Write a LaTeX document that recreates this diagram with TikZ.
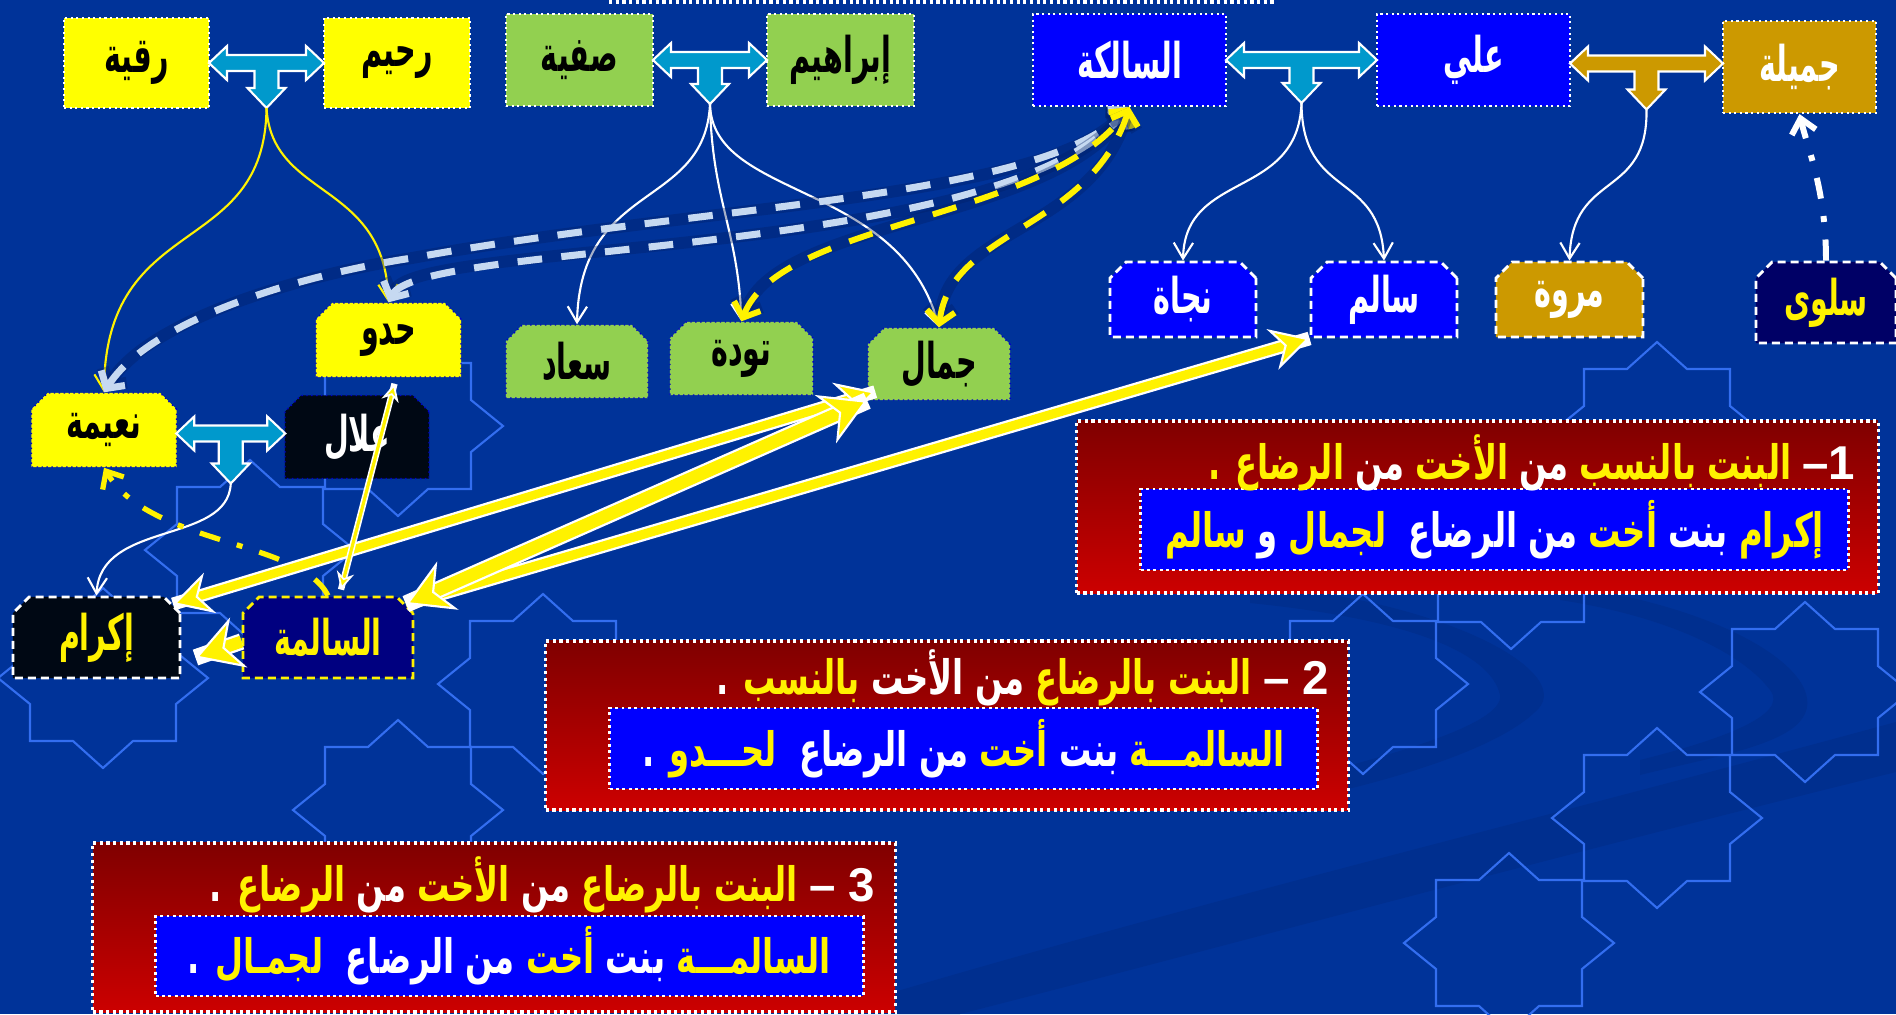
\documentclass[tikz,border=0pt]{standalone}
\usepackage{fontspec}
\usepackage{xcolor}
\usetikzlibrary{arrows.meta}
\usetikzlibrary{positioning}
\usetikzlibrary{calc}
\usetikzlibrary{shapes.misc}
\TeXXeTstate=1
\newfontfamily\arfont[Script=Arabic,FakeStretch=0.58]{DejaVu Sans}
\newfontfamily\artxfont[Script=Arabic,FakeStretch=0.68]{DejaVu Sans}
\newfontfamily\numfont{Liberation Sans}
\definecolor{bgblue}{RGB}{0,51,153}
\definecolor{bandblue}{RGB}{0,47,143}
\definecolor{starblue}{RGB}{51,110,240}
\definecolor{boxyellow}{RGB}{255,255,0}
\definecolor{boxgreen}{RGB}{146,208,80}
\definecolor{boxblue}{RGB}{0,0,255}
\definecolor{boxgold}{RGB}{204,153,0}
\definecolor{boxblack}{RGB}{0,8,20}
\definecolor{boxnavy}{RGB}{0,0,128}
\definecolor{salwanavy}{RGB}{0,0,102}
\definecolor{tcyan}{RGB}{0,153,204}
\definecolor{milkblue}{RGB}{198,217,241}
\definecolor{halo}{RGB}{0,30,100}
\definecolor{dotblue}{RGB}{0,0,200}
\definecolor{paneltop}{RGB}{128,0,0}
\definecolor{panelbot}{RGB}{204,0,0}
\newcommand{\nmfont}{\arfont\bfseries\fontsize{14}{16}\selectfont}
\newcommand{\txfont}{\artxfont\bfseries\fontsize{13.5}{16}\selectfont}
\newcommand{\yw}[1]{\textcolor{yellow}{#1}}
\newcommand{\ww}[1]{\textcolor{white}{#1}}
\newcommand{\rtl}[1]{\beginR#1\endR}

\tikzset{
	starline/.style={draw=starblue, line width=0.6pt},
	tshape/.style={draw=white, line width=0.6pt},
	topbox/.style={rectangle, draw=white, densely dotted, line width=0.6pt, inner sep=0pt, font=\nmfont},
	kidbox/.style={chamfered rectangle, chamfered rectangle corners={north west,north east}, chamfered rectangle xsep=0.06cm, draw=dotblue, densely dotted, line width=0.4pt, inner sep=0pt, font=\nmfont},
	kidboxw/.style={kidbox, draw=white, dash pattern=on 2.3pt off 1.4pt, line width=0.8pt},
	panel/.style={rectangle, top color=paneltop, bottom color=panelbot, draw=white, densely dotted, line width=0.9pt, inner sep=0pt},
	inbox/.style={rectangle, fill=boxblue, draw=white, densely dotted, line width=0.8pt, inner sep=0pt, font=\txfont},
	titletx/.style={font=\txfont, inner sep=0pt},
	wline/.style={draw=white, line width=0.6pt, -{Straight Barb[length=4.5pt,width=5.5pt]}},
	yline/.style={wline, draw=yellow},
	milkline/.style={draw=milkblue, line width=2pt, dash pattern=on 7pt off 5.5pt, preaction={draw=halo, line width=3.4pt, line cap=round, opacity=0.35}, {Straight Barb[length=3.5pt,width=8pt]}-{Straight Barb[length=3.5pt,width=8pt]}},
	milkyel/.style={milkline, draw=yellow, line width=1.7pt},
	dashdotw/.style={draw=white, line width=1.7pt, dash pattern=on 6pt off 5pt on 1.7pt off 5pt, -{Straight Barb[length=4pt,width=7pt]}},
	dashdoty/.style={dashdotw, draw=yellow, line width=1.5pt},
	fat/.style={draw=yellow, line width=#1, preaction={draw=white, line width=#1+1.3pt, arrows=-}},
	thinfat/.style={draw=yellow, line width=0.9pt, preaction={draw=white, line width=1.8pt, arrows=-}},
	ikhead/.tip={Stealth[length=11pt,width=12pt,fill=yellow,color=white,line width=0.6pt]},
	sjhead/.tip={Stealth[length=13pt,width=15pt,fill=yellow,color=white,line width=0.6pt]},
	thinhead/.tip={Stealth[length=5pt,width=5pt,fill=yellow,color=white,line width=0.5pt]},
	pics/star8/.style={code={
		\draw[starline] (0,-90) -- (30,-63) -- (73,-63) -- (73,-26) -- (105,0) -- (73,26) -- (73,63) -- (30,63) -- (0,90) -- (-30,63) -- (-73,63) -- (-73,26) -- (-105,0) -- (-73,-26) -- (-73,-63) -- (-30,-63) -- cycle;
	}},
	pics/tbar/.style n args={3}{code={
		\path[tshape,fill=#3] (-#1,0) -- ++(18,-17) -- ++(0,9) -- (#1-18,-8) -- ++(0,-9) -- (#1,0) -- ++(-18,17) -- ++(0,-9) -- (12,8) -- (12,#2-20) -- (19,#2-20) -- (0,#2) -- (-19,#2-20) -- (-12,#2-20) -- (-12,8) -- (-#1+18,8) -- ++(0,9) -- cycle;
		\coordinate (-tip) at (0,#2);
	}},
}

\begin{document}
\begin{tikzpicture}[x=0.01cm,y=-0.01cm]
	\useasboundingbox (0,0) rectangle (1896,1014);
	%background
	\fill[bgblue] (0,0) rectangle (1896,1014);
	\fill[bandblue] (1250,585) .. controls (1450,600) and (1580,675) .. (1535,712) .. controls (1490,755) and (1360,790) .. (1250,810) -- (1250,790) .. controls (1380,760) and (1505,725) .. (1500,695) .. controls (1490,650) and (1400,618) .. (1250,603) -- cycle;
	\fill[bandblue] (1560,585) .. controls (1750,610) and (1850,690) .. (1790,730) .. controls (1760,750) and (1700,760) .. (1640,775) -- (1640,760) .. controls (1720,740) and (1790,715) .. (1770,690) .. controls (1740,650) and (1660,615) .. (1560,600) -- cycle;
	\fill[bandblue] (820,1014) .. controls (1200,900) and (1500,830) .. (1896,722) -- (1896,772) .. controls (1500,870) and (1250,940) .. (960,1014) -- cycle;
	\foreach \sx/\sy in {250/550,103/678,398/810,398/426,543/684,1657/432,1805/692,1657/818,1509/943,1511/559,1363/684}
		\pic at (\sx,\sy) {star8};
	\draw[white, densely dotted, line width=0.9pt] (609,2) -- (1276,2);

	%parents
	\node[topbox, fill=boxyellow, minimum width=1.45cm, minimum height=0.9cm] (ruq) at (136.5,63) {\rtl{رقية}};
	\node[topbox, fill=boxyellow, minimum width=1.46cm, minimum height=0.9cm] (rah) at (397,63) {\rtl{رحيم}};
	\node[topbox, fill=boxgreen, minimum width=1.47cm, minimum height=0.92cm] (saf) at (579.5,60) {\rtl{صفية}};
	\node[topbox, fill=boxgreen, minimum width=1.47cm, minimum height=0.92cm] (ibr) at (840.5,60) {\rtl{إبراهيم}};
	\node[topbox, fill=boxblue, text=white, minimum width=1.93cm, minimum height=0.92cm] (slk) at (1129.5,60) {\rtl{السالكة}};
	\node[topbox, fill=boxblue, text=white, minimum width=1.93cm, minimum height=0.92cm] (ali) at (1473.5,60) {\rtl{علي}};
	\node[topbox, fill=boxgold, text=white, minimum width=1.53cm, minimum height=0.92cm] (jamila) at (1799.5,67) {\rtl{جميلة}};

	%children
	\node[kidbox, fill=boxyellow, minimum width=1.45cm, minimum height=0.74cm] (hadw) at (388.5,340) {\rtl{حدو}};
	\node[kidbox, fill=boxgreen, minimum width=1.42cm, minimum height=0.73cm] (suad) at (577,361.5) {\rtl{سعاد}};
	\node[kidbox, fill=boxgreen, minimum width=1.43cm, minimum height=0.73cm] (tawd) at (741.5,358.5) {\rtl{تودة}};
	\node[kidbox, fill=boxgreen, minimum width=1.42cm, minimum height=0.72cm] (jamal) at (939,364) {\rtl{جمال}};
	\node[kidboxw, fill=boxblue, text=white, minimum width=1.46cm, minimum height=0.75cm] (naj) at (1183,299.5) {\rtl{نجاة}};
	\node[kidboxw, fill=boxblue, text=white, minimum width=1.46cm, minimum height=0.75cm] (salm) at (1384,299.5) {\rtl{سالم}};
	\node[kidboxw, fill=boxgold, text=white, minimum width=1.47cm, minimum height=0.75cm] (marw) at (1569.5,299.5) {\rtl{مروة}};
	\node[kidboxw, fill=salwanavy, text=yellow, minimum width=1.4cm, minimum height=0.81cm] (salw) at (1826,302.5) {\rtl{سلوى}};
	\node[kidbox, fill=boxyellow, minimum width=1.45cm, minimum height=0.74cm] (naim) at (104,430) {\rtl{نعيمة}};
	\node[kidbox, fill=boxblack, text=white, minimum width=1.44cm, minimum height=0.83cm] (alal) at (357,437) {\rtl{علال}};
	\node[kidboxw, fill=boxblack, text=yellow, minimum width=1.67cm, minimum height=0.81cm] (ikr) at (96.5,637.5) {\rtl{إكرام}};
	\node[kidboxw, draw=yellow, fill=boxnavy, text=yellow, minimum width=1.7cm, minimum height=0.81cm] (slm) at (328,637.5) {\rtl{السالمة}};

	%marriage joints
	\pic (tRR) at ($(ruq.east)!.5!(rah.west)$) {tbar={57.5}{45}{tcyan}};
	\pic (tIS) at ($(saf.east)!.5!(ibr.west)$) {tbar={57}{44}{tcyan}};
	\pic (tSA) at ($(slk.east)!.5!(ali.west)$) {tbar={75.5}{43}{tcyan}};
	\pic (tAJ) at ($(ali.east)!.5!(jamila.west)$) {tbar={76.5}{46}{boxgold}};
	\pic (tNA) at ($(naim.east)!.5!(alal.west)$) {tbar={54.5}{50}{tcyan}};

	%descent
	\draw[yline] (tRR-tip) .. controls (265,260) and (105,210) .. (naim.north);
	\draw[yline] (tRR-tip) .. controls (272,200) and (385,180) .. (hadw.north);
	\draw[wline] (tIS-tip) .. controls (705,210) and (580,180) .. (suad.north);
	\draw[wline] (tIS-tip) .. controls (712,200) and (738,230) .. (tawd.north);
	\draw[wline] (tIS-tip) .. controls (712,200) and (900,180) .. (jamal.north);
	\draw[wline] (tSA-tip) .. controls (1298,200) and (1185,170) .. (naj.north);
	\draw[wline] (tSA-tip) .. controls (1302,200) and (1380,170) .. (salm.north);
	\draw[wline] (tAJ-tip) .. controls (1648,200) and (1572,170) .. (marw.north);
	\draw[wline] (tNA-tip) .. controls (228,545) and (100,520) .. (ikr.north);

	%nursing
	\draw[milkline] (naim.north) .. controls (150,320) and (300,275) .. (412,258) .. controls (700,205) and (1040,200) .. (slk.south);
	\draw[milkline] (hadw.north) .. controls (420,240) and (1000,260) .. (slk.south);
	\draw[milkyel] (tawd.north) .. controls (780,220) and (1050,220) .. (slk.south);
	\draw[milkyel] (jamal.north) .. controls (950,230) and (1090,230) .. (slk.south);
	\draw[dashdotw] (salw.north) .. controls (1826,190) and (1808,150) .. (jamila.south);
	\draw[dashdoty] (slm.north) .. controls (300,540) and (150,545) .. (naim.south);

	%sisters
	\draw[fat=2.6pt, -ikhead] (slm.north east) -- (salm.south west);
	\draw[fat=2.4pt, ikhead-ikhead] (ikr.north east) -- ($(jamal.south west)+(8,-9)$);
	\draw[fat=3.6pt, sjhead-sjhead] (slm.north east) -- (jamal.south west);
	\draw[fat=3.4pt, -sjhead] ($(slm.west)+(0,4)$) -- ($(ikr.east)+(14,20)$);
	\draw[thinfat, thinhead-thinhead] ($(hadw.south)+(6,6)$) -- ($(slm.north)+(13,-6)$);

	%cases (words set left to right in the order they are seen)
	\node[panel, minimum width=8.01cm, minimum height=1.72cm] (p1) at (1477.5,507) {};
	\node[inbox, minimum width=7.07cm, minimum height=0.81cm] (p1in) at (1494.5,529.5) {\yw{سالم} \ww{و} \yw{لجمال}\ \ \ww{الرضاع} \ww{من} \yw{أخت} \ww{بنت} \yw{إكرام}};
	\node[titletx, anchor=east] (p1t) at (1856,463) {\yw{.} \yw{الرضاع} \ww{من} \yw{الأخت} \ww{من} \yw{بالنسب} \yw{البنت} \ww{\numfont\bfseries –1}};

	\node[panel, minimum width=8.02cm, minimum height=1.69cm] (p2) at (947,725.5) {};
	\node[inbox, minimum width=7.07cm, minimum height=0.81cm] (p2in) at (963.5,748.5) {\ww{.} \yw{لحـــدو}\ \ \ww{الرضاع} \ww{من} \yw{أخت} \ww{بنت} \yw{السالمـــة}};
	\node[titletx, anchor=east] (p2t) at (1330,678) {\ww{.} \yw{بالنسب} \ww{الأخت} \ww{من} \yw{بالرضاع} \yw{البنت} \ww{\numfont\bfseries – 2}};

	\node[panel, minimum width=8.02cm, minimum height=1.69cm] (p3) at (494,927.5) {};
	\node[inbox, minimum width=7.07cm, minimum height=0.8cm] (p3in) at (509.5,956) {\ww{.} \yw{لجمـال}\ \ \ww{الرضاع} \ww{من} \yw{أخت} \ww{بنت} \yw{السالمـــة}};
	\node[titletx, anchor=east] (p3t) at (876,885) {\ww{.} \yw{الرضاع} \ww{من} \yw{الأخت} \ww{من} \yw{بالرضاع} \yw{البنت} \ww{\numfont\bfseries – 3}};
\end{tikzpicture}
\end{document}
